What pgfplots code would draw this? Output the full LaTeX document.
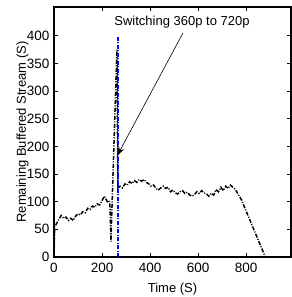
\documentclass[border=0pt]{standalone}
\usepackage{fontspec}
\setmainfont{Liberation Sans}
\usepackage{pgfplots}
\usetikzlibrary{arrows.meta}
\pgfplotsset{compat=1.18}
\begin{document}
\fontsize{13.5}{15}\selectfont
\begin{tikzpicture}
\begin{axis}[
  scale only axis,
  width=237pt, height=250pt,
  xmin=0, xmax=987, ymin=0, ymax=452,
  xtick={0,200,400,600,800},
  ytick={0,50,100,150,200,250,300,350,400},
  tick align=inside,
  major tick length=4pt,
  axis line style={line width=1.1pt},
  tick style={black, line width=0.8pt},
  /pgf/number format/assume math mode=true,
  ticklabel style={font=\fontsize{13.5}{15}\selectfont},
  label style={font=\fontsize{13}{15}\selectfont},
  xticklabel style={yshift=-1pt},
  xlabel={Time (S)},
  ylabel={Remaining Buffered Stream (S)},
  xlabel style={yshift=-2pt},
  ylabel style={yshift=-11pt},
  clip=false,
]
\addplot[black, line width=1.5pt, dash pattern=on 4pt off 1.5pt on 1pt off 1.5pt] coordinates {
(0,0) (3,55) (10,60) (20,68) (30,75) (40,70) (50,72) (60,66) (70,70) (80,66)
(90,74) (100,78) (110,76) (120,82) (130,80) (140,88) (150,86) (160,92) (170,90)
(180,96) (190,94) (200,102) (210,110) (215,106) (222,100) (228,102) (233,94)
(237,28) (262,375) (266,125) (275,128) (285,125) (295,132) (305,130) (315,136)
(325,133) (335,138) (345,135) (355,140) (365,137) (375,140) (385,135) (395,132)
(405,128) (415,130) (425,124) (435,121) (445,125) (455,128) (465,124) (475,126)
(485,118) (495,121) (505,116) (515,114) (525,118) (535,120) (545,115) (555,117)
(565,112) (575,110) (585,113) (595,118) (605,115) (615,120) (625,116) (635,114)
(645,110) (655,115) (665,112) (675,122) (685,118) (695,126) (705,120) (715,128)
(725,124) (735,130) (745,126) (755,122) (765,115) (780,104) (880,0)
};
\addplot[blue, line width=1.4pt, dash pattern=on 4pt off 1.5pt on 1pt off 1.5pt] coordinates {(266,0) (266,400)};
\node[font=\fontsize{13}{15}\selectfont] at (axis cs:533,424) {Switching 360p to 720p};
\draw[-{Stealth[length=9pt,width=6pt]}, line width=0.6pt] (axis cs:537,405) -- (axis cs:263,183);
\end{axis}
\pgfresetboundingbox
\path ([shift={(-54pt,-40pt)}]current axis.south west) rectangle ([shift={(0pt,7pt)}]current axis.north east);
\end{tikzpicture}
\end{document}
